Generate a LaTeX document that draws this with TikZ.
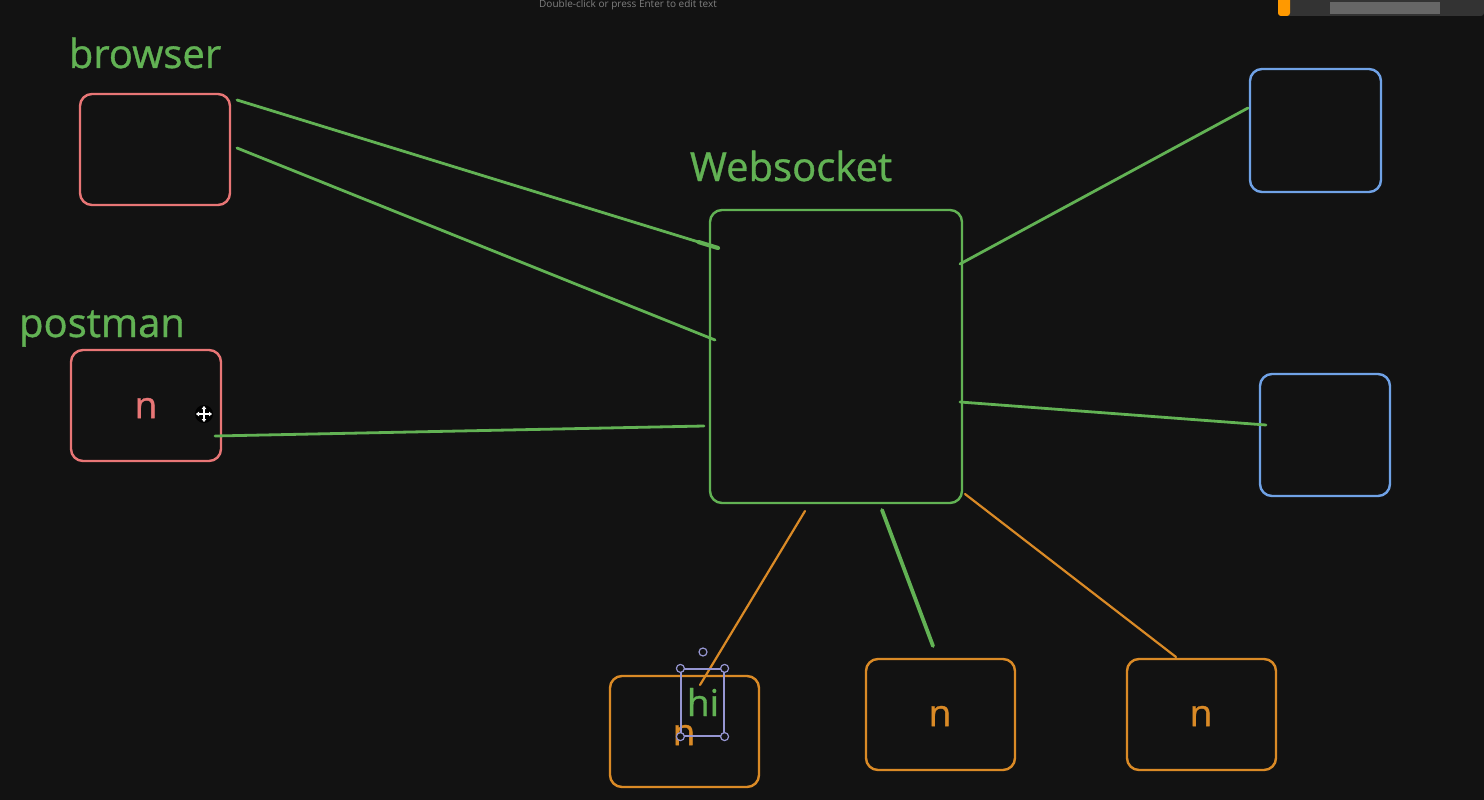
\documentclass[tikz,border=0pt]{standalone}
\usepackage{fontspec}
\setmainfont{Open Sans}
\newfontfamily\semib[FakeBold=0.9]{Open Sans}
\usetikzlibrary{calc,arrows.meta}
\definecolor{bg}{RGB}{18,18,18}
\definecolor{gr}{RGB}{98,178,84}
\definecolor{pk}{RGB}{232,118,118}
\definecolor{bl}{RGB}{112,162,230}
\definecolor{orng}{RGB}{218,138,38}
\definecolor{sel}{RGB}{150,150,210}
\tikzset{
  box/.style={draw=#1, line width=2.4pt, rounded corners=12pt, inner sep=0pt},
  lbl/.style={text=gr, font=\semib\fontsize{40}{44}\selectfont, inner sep=0pt, anchor=base},
  ntext/.style={text=#1, font=\semib\fontsize{37}{40}\selectfont, inner sep=0pt},
  gline/.style={draw=gr, line width=2.8pt, line cap=round},
  oline/.style={draw=orng, line width=2.2pt, line cap=round},
  handle/.style={circle, draw=sel, fill=bg, line width=1.2pt, minimum size=8pt, inner sep=0pt},
  curs/.style={draw=white, line width=1.6pt, -{Triangle[length=3pt,width=4.5pt]}},
}
\begin{document}
\begin{tikzpicture}[x=1pt,y=-1pt]
\fill[bg] (0,0) rectangle (1484,800);
\useasboundingbox (0,0) rectangle (1484,800);
% top hint text and webcam strip
\node[text=black!50!white, font=\fontsize{10}{12}\selectfont, inner sep=0pt] (hint) at (628,5) {Double-click or press Enter to edit text};
\fill[black!80!white, rounded corners=3pt] (1278,-5) rectangle (1484,16);
\fill[black!60!white] (1330,2) rectangle (1440,14);
\fill[orange!80!yellow, rounded corners=3pt] (1278,-5) rectangle (1290,16);
% boxes
\node[box=pk, minimum width=150pt, minimum height=111pt] (browser) at (155,149.5) {};
\node[box=pk, minimum width=150pt, minimum height=111pt] (postman) at (146,405.5) {};
\node[ntext=pk] (pn) at (146,408) {n};
\node[box=gr, minimum width=252pt, minimum height=293pt] (ws) at (836,356.5) {};
\node[box=bl, minimum width=131pt, minimum height=123pt] (b1) at (1315.5,130.5) {};
\node[box=bl, minimum width=130pt, minimum height=122pt] (b2) at (1325,435) {};
\node[box=orng, minimum width=149pt, minimum height=111pt] (o1) at (684.5,731.5) {};
\node[box=orng, minimum width=149pt, minimum height=111pt] (o2) at (940.5,714.5) {};
\node[box=orng, minimum width=149pt, minimum height=111pt] (o3) at (1201.5,714.5) {};
\node[ntext=orng] (o2n) at (940,716) {n};
\node[ntext=orng] (o3n) at (1201,716) {n};
% labels
\node[lbl] (lb) at (145,68) {browser};
\node[lbl] (lp) at (102,337) {postman};
\node[lbl] (lw) at (791,181) {Websocket};
% connector end points
\coordinate (a1) at (237,100); \coordinate (a2) at (718,248);
\coordinate (c1) at (237,148); \coordinate (c2) at (715,340);
\coordinate (d1) at (215,436); \coordinate (d2) at (704,426);
\coordinate (e1) at (960,264); \coordinate (e2) at (1248,108);
\coordinate (f1) at (960,402); \coordinate (f2) at (1266,425);
\coordinate (g1) at (882,510); \coordinate (g2) at (933,646);
\coordinate (h1) at (805,511); \coordinate (h2) at (700,685);
\coordinate (k1) at (965,494); \coordinate (k2) at (1176,657);
\draw[gline] (a1) -- (a2);
\draw[gline, line width=4.2pt] ($(a1)!0.96!(a2)$) -- (a2);
\draw[gline] (c1) -- (c2);
\draw[gline] (d1) -- (d2);
\draw[gline] (e1) -- (e2);
\draw[gline] (f1) -- (f2);
\draw[gline, line width=3.8pt] (g1) -- (g2);
\draw[oline] (h1) -- (h2);
\draw[oline] (k1) -- (k2);
% text in first orange box with selection
\node[ntext=orng] (o1n) at (684,735) {n};
\node[ntext=gr] (hi) at (703,702) {hi};
\node[draw=sel, line width=1.2pt, minimum width=43pt, minimum height=67pt, inner sep=0pt] (selbox) at (702.5,702.5) {};
\node[handle] (h-nw) at (selbox.north west) {};
\node[handle] (h-ne) at (selbox.north east) {};
\node[handle] (h-sw) at (selbox.south west) {};
\node[handle] (h-se) at (selbox.south east) {};
\node[handle] (h-rot) at (703,652) {};
% move cursor
\coordinate (cur) at (204,414);
\fill[black] (cur) circle (9pt);
\draw[curs] (cur) -- ++(0,-8);
\draw[curs] (cur) -- ++(0,8);
\draw[curs] (cur) -- ++(-8,0);
\draw[curs] (cur) -- ++(8,0);
\end{tikzpicture}
\end{document}
